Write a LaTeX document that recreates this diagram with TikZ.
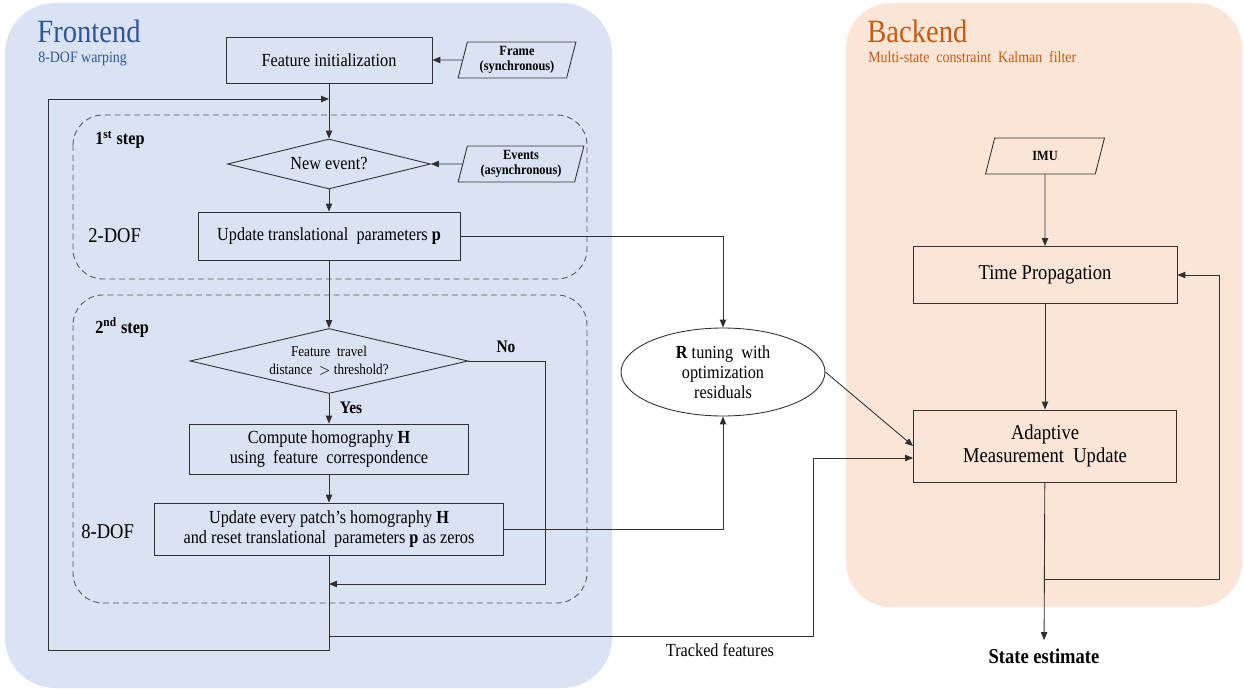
\documentclass[tikz,border=0pt]{standalone}
\usepackage{fontspec}
\setmainfont{Liberation Serif}[FakeStretch=0.88]
\usetikzlibrary{arrows.meta}
\usetikzlibrary{shapes}
\usetikzlibrary{positioning}
\usetikzlibrary{backgrounds}

\definecolor{frontbg}{HTML}{DAE3F3}
\definecolor{backbg}{HTML}{FBE5D6}
\definecolor{frontfg}{HTML}{2F5597}
\definecolor{backfg}{HTML}{C55A11}
\definecolor{linegray}{HTML}{303030}
\definecolor{dashgray}{HTML}{595959}

\begin{document}
\begin{tikzpicture}[x=0.02cm, y=-0.02cm]
    \tikzset{every node/.style={font=\fontsize{10.5}{11.5}\selectfont, align=center, inner sep=0pt},
            >={Triangle[length=4.5pt,width=3.6pt]},
            line/.style={draw=linegray, line width=0.5pt},
            procbox/.style={rectangle, draw=linegray, line width=0.5pt},
            decision/.style={diamond, draw=linegray, line width=0.5pt},
            iobox/.style={trapezium, trapezium left angle=76, trapezium right angle=104,
                          trapezium stretches=true, draw=linegray, line width=0.5pt,
                          font=\fontsize{8}{9}\selectfont\bfseries},
            stepframe/.style={draw=dashgray, line width=0.5pt, dash pattern=on 3.4pt off 2.2pt, rounded corners=0.6cm},
            every edge/.style={draw=linegray, line width=0.5pt}}
    \useasboundingbox (0,0) rectangle (1244,689);
    % panels
    \fill[frontbg, rounded corners=1cm] (5,3) rectangle (612,688);
    \fill[backbg, rounded corners=0.9cm] (846,3) rectangle (1242,607);
    \draw[stepframe] (73,115) rectangle (587,279);
    \draw[stepframe] (73,295) rectangle (587,603);

    % titles
    \node[anchor=base west, text=frontfg, font=\fontsize{18.5}{20}\selectfont] (fronttitle) at (37,43) {Frontend};
    \node[anchor=base west, text=frontfg, font=\fontsize{9}{10}\selectfont] (frontsub) at (38,63) {8-DOF warping};
    \node[anchor=base west, text=backfg, font=\fontsize{18.5}{20}\selectfont] (backtitle) at (867,43) {Backend};
    \node[anchor=base west, text=backfg, font=\fontsize{9}{10}\selectfont] (backsub) at (868,63) {Multi-state\ \ constraint\ \ Kalman\ \ filter};

    % frontend
    \node[procbox, minimum width=4.12cm, minimum height=0.92cm] (init) at (329,60) {Feature initialization};
    \node[iobox, minimum width=2.36cm, minimum height=0.72cm] (frame) at (517,60) {Frame\\(synchronous)};
    \node[anchor=base west, font=\fontsize{10.5}{11.5}\selectfont\bfseries] (step1) at (95,145) {1\textsuperscript{st} step};
    \node[decision, aspect=4, minimum width=4.06cm, minimum height=1.0cm] (newevt) at (329,164) {New event?};
    \node[iobox, minimum width=2.52cm, minimum height=0.72cm] (events) at (521,164) {Events\\(asynchronous)};
    \node[procbox, minimum width=5.24cm, minimum height=0.96cm] (upd2) at (329,236) {Update translational\ \ parameters \textbf{p}};
    \node[anchor=base west, font=\fontsize{12}{13}\selectfont] (dof2) at (88,243) {2-DOF};

    \node[anchor=base west, font=\fontsize{10.5}{11.5}\selectfont\bfseries] (step2) at (95,333) {2\textsuperscript{nd} step};
    \node[decision, aspect=4.28, minimum width=5.56cm, minimum height=1.3cm, font=\fontsize{8.5}{10.3}\selectfont] (thr) at (329,361) {Feature\ \ travel\\distance\ \ $>$ threshold?};
    \node[anchor=base, font=\fontsize{10}{11}\selectfont\bfseries] (no) at (506,352) {No};
    \node[anchor=base, font=\fontsize{10}{11}\selectfont\bfseries] (yes) at (351,413) {Yes};
    \node[procbox, minimum width=5.58cm, minimum height=1.0cm] (comp) at (329,449) {Compute homography \textbf{H}\\using\ \ feature\ \ correspondence};
    \node[procbox, minimum width=6.98cm, minimum height=1.04cm] (upd8) at (329,529) {Update every patch’s homography \textbf{H}\\and reset translational\ \ parameters \textbf{p} as zeros};
    \node[anchor=base west, font=\fontsize{12}{13}\selectfont] (dof8) at (81,538) {8-DOF};

    % middle
    \node[ellipse, draw=linegray, line width=0.5pt, minimum width=4.08cm, minimum height=1.76cm, font=\fontsize{10.5}{11.3}\selectfont] (rtune) at (723,372) {\textbf{R} tuning\ \ with\\optimization\\residuals};
    \node[anchor=base, font=\fontsize{10.5}{11.5}\selectfont] (tracked) at (720,656) {Tracked features};

    % backend
    \node[iobox, minimum width=2.38cm, minimum height=0.72cm] (imu) at (1045,156) {IMU};
    \node[procbox, minimum width=5.28cm, minimum height=1.14cm, font=\fontsize{12}{13}\selectfont] (tp) at (1045,275) {Time\ Propagation};
    \node[procbox, minimum width=5.26cm, minimum height=1.44cm, font=\fontsize{12}{13}\selectfont] (amu) at (1045,446) {Adaptive\\Measurement\ \ Update};
    \node[anchor=base, inner sep=4.5pt, font=\fontsize{12}{13}\selectfont\bfseries] (est) at (1044,663) {State estimate};

    \coordinate (looptop) at (329,99);
    \coordinate (loopbot) at (48,650);
    \coordinate (merge) at (329,584);
    \coordinate (tracksplit) at (329,636);
    \coordinate (fbsplit) at (1045,579);

    % straight connectors
    \path [->] (frame) edge (init);
    \path [->] (init) edge (newevt);
    \path [->] (events) edge (newevt);
    \path [->] (newevt) edge (upd2);
    \path [->] (upd2) edge (thr);
    \path [->] (thr) edge (comp);
    \path [->] (comp) edge (upd8);
    \path [->] (imu) edge (tp);
    \path [->] (tp) edge (amu);
    \path [->] (rtune.east) edge (amu.west);
    \path [->] (amu) edge (est);

    % elbow connectors
    \draw[line, ->] (upd2.east) -| (rtune.north);
    \draw[line, ->] (upd8.east) -| (rtune.south);
    \draw[line, ->] (thr.east) -- ++(77,0) |- (merge);
    \draw[line, ->] (upd8.south) |- (loopbot) |- (looptop);
    \draw[line, ->] (tracksplit) -- ++(484,0) |- ([yshift=-0.24cm]amu.west);
    \draw[line, ->] (fbsplit) -- ++(174,0) |- (tp.east);
\end{tikzpicture}
\end{document}
